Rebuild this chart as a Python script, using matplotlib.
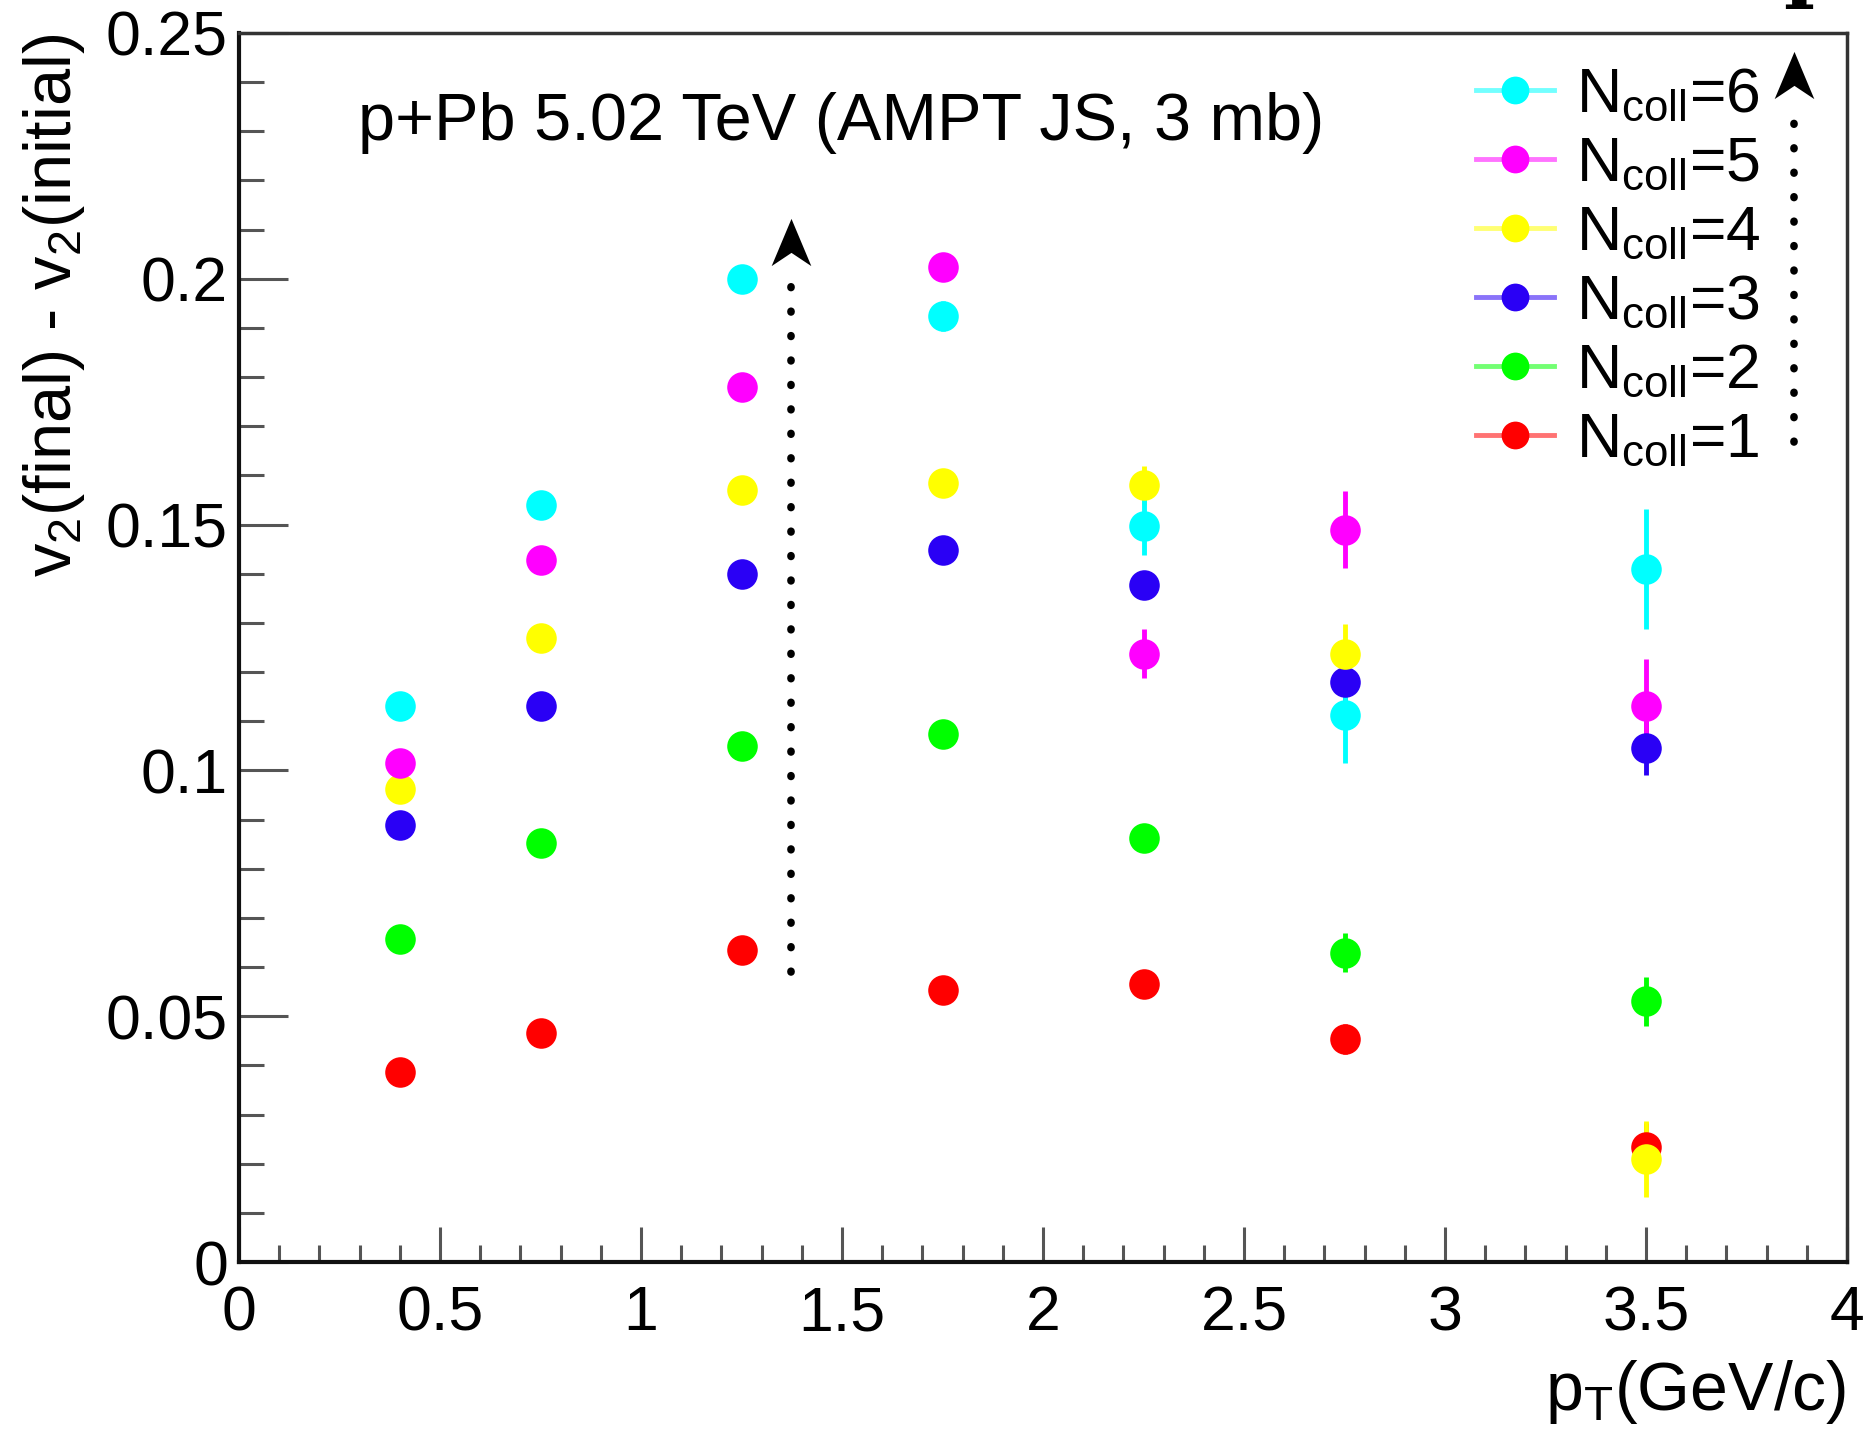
import numpy as np
import matplotlib.pyplot as plt
from matplotlib.lines import Line2D
from matplotlib.path import Path
from matplotlib.legend_handler import HandlerTuple
from matplotlib.ticker import MultipleLocator, FormatStrFormatter

plt.rcParams['font.family'] = ['Liberation Sans', 'DejaVu Sans']
plt.rcParams['mathtext.fontset'] = 'custom'
plt.rcParams['mathtext.rm'] = 'Liberation Sans'
plt.rcParams['mathtext.it'] = 'Liberation Sans:italic'

# pT bin centres (GeV/c)
pt = [0.4, 0.75, 1.25, 1.75, 2.25, 2.75, 3.5]

# v2(final) - v2(initial) per Ncoll, with statistical errors
v2_n1 = [0.0386, 0.0466, 0.0634, 0.0554, 0.0566, 0.0454, 0.0233]
err_n1 = [0.0015, 0.0015, 0.0015, 0.002, 0.002, 0.003, 0.005]
v2_n2 = [0.0658, 0.0853, 0.1050, 0.1074, 0.0862, 0.0629, 0.0530]
err_n2 = [0.0015, 0.0015, 0.0015, 0.002, 0.0025, 0.004, 0.005]
v2_n3 = [0.0889, 0.1130, 0.1400, 0.1448, 0.1378, 0.1180, 0.1045]
err_n3 = [0.0015, 0.0015, 0.002, 0.002, 0.0025, 0.004, 0.0055]
v2_n4 = [0.0962, 0.1270, 0.1570, 0.1584, 0.1580, 0.1237, 0.0209]
err_n4 = [0.0015, 0.002, 0.002, 0.0025, 0.004, 0.006, 0.0077]
v2_n5 = [0.1016, 0.1429, 0.1780, 0.2024, 0.1237, 0.1490, 0.1130]
err_n5 = [0.0015, 0.002, 0.002, 0.0025, 0.005, 0.0078, 0.0097]
v2_n6 = [0.1130, 0.1540, 0.2000, 0.1924, 0.1497, 0.1113, 0.1410]
err_n6 = [0.0015, 0.002, 0.002, 0.003, 0.0058, 0.0097, 0.0122]

ncoll = [1, 2, 3, 4, 5, 6]
series = [v2_n1, v2_n2, v2_n3, v2_n4, v2_n5, v2_n6]
errors = [err_n1, err_n2, err_n3, err_n4, err_n5, err_n6]
colors = ['#ff0000', '#00ff00', '#2a00f5', '#ffff00', '#ff00ff', '#00ffff']

W, H = 1867, 1434
fig = plt.figure(figsize=(W / 100, H / 100), dpi=100)
ax = fig.add_axes([239 / W, (H - 1262) / H, (1847 - 239) / W, (1262 - 33) / H])

handles = []
labels = []
for n, y, e, c in zip(ncoll, series, errors, colors):
    ax.errorbar(pt, y, yerr=e, fmt='o', ms=22, mfc=c, mec=c, mew=0,
                ecolor=c, elinewidth=3.5, capsize=0, zorder=3)
    bar = Line2D([], [], color=c, lw=3.5, alpha=0.55)
    dot = Line2D([], [], ls='none', marker='o', ms=20, mfc=c, mec=c, mew=0)
    handles.append((bar, dot))
    labels.append(r'N$_{\mathrm{coll}}$=%d' % n)

ax.set_xlim(0, 4)
ax.set_ylim(0, 0.25)
ax.xaxis.set_major_locator(MultipleLocator(0.5))
ax.xaxis.set_minor_locator(MultipleLocator(0.1))
ax.yaxis.set_major_locator(MultipleLocator(0.05))
ax.yaxis.set_minor_locator(MultipleLocator(0.01))
ax.xaxis.set_major_formatter(FormatStrFormatter('%g'))
ax.yaxis.set_major_formatter(FormatStrFormatter('%g'))
ax.tick_params(axis='both', which='both', direction='in', color='#555555',
               width=2.2, labelsize=45, top=False, right=False)
ax.tick_params(axis='y', which='major', length=35, pad=8)
ax.tick_params(axis='y', which='minor', length=18)
ax.tick_params(axis='x', which='major', length=25, pad=16)
ax.tick_params(axis='x', which='minor', length=12)
for side in ['left', 'bottom']:
    ax.spines[side].set_linewidth(3)
    ax.spines[side].set_color('#111111')
for side in ['top', 'right']:
    ax.spines[side].set_linewidth(2.5)
    ax.spines[side].set_color('#333333')

# labels, ROOT style
fig.text(54 / W, 1 - 34 / H, r'v$_{2}$(final) - v$_{2}$(initial)', rotation=90,
         ha='center', va='top', fontsize=48)
fig.text(1846 / W, 1 - 1410 / H, r'p$_{\mathrm{T}}$(GeV/c)', ha='right',
         va='baseline', fontsize=49)
fig.text(358 / W, 1 - 140 / H, 'p+Pb 5.02 TeV (AMPT JS, 3 mb)', ha='left',
         va='baseline', fontsize=48)

# stray glyphs cut off at the top edge
fig.text(1783 / W, 1 - 9 / H, 'pA', ha='left', va='bottom', fontsize=60,
         family='DejaVu Serif', fontweight='bold')

leg = ax.legend(handles[::-1], labels[::-1], loc='upper left',
                handler_map={tuple: HandlerTuple(ndivide=1, pad=0)},
                bbox_to_anchor=(1476 / W, 1 - 66 / H),
                bbox_transform=fig.transFigure, frameon=False, fontsize=45,
                handlelength=1.25, handletextpad=0.35, labelspacing=0.16,
                borderpad=0, borderaxespad=0)

# dotted arrows
head = Path([(0, 0.5), (0.42, -0.5), (0, -0.22), (-0.42, -0.5), (0, 0.5)],
            [Path.MOVETO, Path.LINETO, Path.LINETO, Path.LINETO, Path.CLOSEPOLY])
for xa, y0, y1, ytip in [(1.372, 0.059, 0.1995, 0.2075), (3.869, 0.1669, 0.2354, 0.2415)]:
    ax.plot([xa, xa], [y0, y1], color='black', lw=5.5, linestyle=(0, (0.1, 3.1)),
            dash_capstyle='round', solid_capstyle='round', zorder=4)
    ax.plot([xa], [ytip], marker=head, ms=34, color='black', mew=0, zorder=4)

fig.savefig('out.png', dpi=100)
